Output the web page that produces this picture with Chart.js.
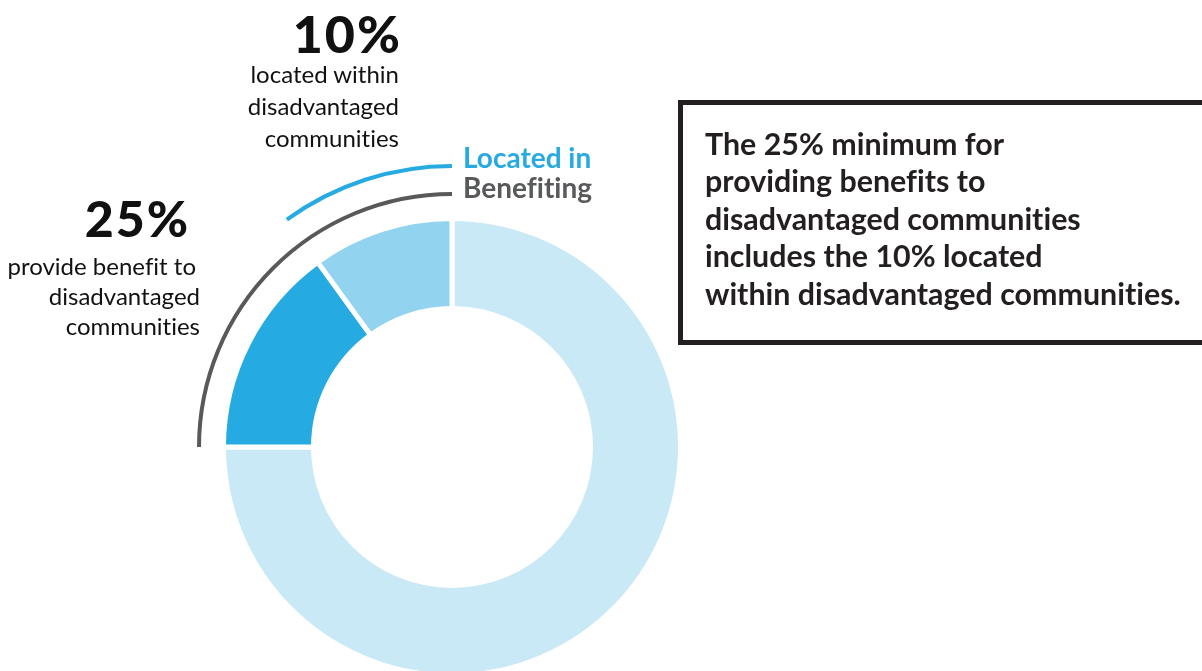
<!DOCTYPE html>
<html>
<head>
<meta charset="utf-8">
<script src="https://cdn.jsdelivr.net/npm/chart.js@4.4.1/dist/chart.umd.min.js"></script>
<style>
    html, body { margin: 0; padding: 0; background: #fff; }
    body { width: 1202px; height: 671px; position: relative; overflow: hidden; font-family: 'Lato', 'Open Sans', sans-serif; color: #111; font-variant-ligatures: none; }
    #ring { position: absolute; left: 152px; top: 146.5px; }
    .txt { position: absolute; white-space: nowrap; }
    .big { font-weight: 900; letter-spacing: 2px; }
    .right { text-align: right; }
    #note-box { position: absolute; left: 678px; top: 100px; width: 620px; height: 245px; box-sizing: border-box; border: 5px solid #231f20; }
</style>
</head>
<body>

<canvas id="ring" width="600" height="600"></canvas>

<div class="txt big right" style="left:202px; width:200px; top:7px; font-size:52px; line-height:52px;">10%</div>
<div class="txt right" style="left:199px; width:200px; top:57.7px; font-size:24px; line-height:32px;">
    located within<br>disadvantaged<br>communities
</div>

<div class="txt big right" style="left:0; width:190px; top:193px; font-size:50px; line-height:50px;">25%</div>
<div class="txt right" style="left:0; width:200px; top:250.7px; font-size:24px; line-height:30px;">
    <span style="padding-right:4px">provide benefit to</span><br>disadvantaged<br>communities
</div>

<div class="txt" style="left:463px; top:142.2px; font-size:28px; line-height:30px; font-weight:700;">
    <span id="lbl-located">Located in</span><br><span id="lbl-benefit">Benefiting</span>
</div>

<div id="note-box"></div>
<div class="txt" style="left:705px; top:124.6px; font-size:30.4px; line-height:37.5px; font-weight:700; color:#231f20;">
    The 25% minimum for<br>providing benefits to<br>disadvantaged communities<br>includes the 10% located<br>within disadvantaged communities.
</div>

<script>
// Share of funding, clockwise from 12 o'clock
const shareLabels = ['Other', 'Provide benefit (not located within)', 'Located within'];
const shareValues = [75, 15, 10];
const shareColors = ['#c9e9f6', '#25aae1', '#92d4ef'];

// Outer brackets: blank part, then the marked part
const benefitArc = [75, 25];
const locatedArc = [90, 10];

const GRAY = '#58595b';
const BLUE = '#27aae1';

document.getElementById('lbl-located').style.color = BLUE;
document.getElementById('lbl-benefit').style.color = GRAY;

// ring thicknesses in px (outermost first)
const ringWeights = { located: 4, gapOuter: 24, benefit: 4, gapInner: 22.5, main: 90 };
const outerR = 283;
const innerR = 138.5;

const ctx = document.getElementById('ring').getContext('2d');
new Chart(ctx, {
    type: 'doughnut',
    data: {
        labels: shareLabels,
        datasets: [
            { data: locatedArc, backgroundColor: ['rgba(0,0,0,0)', BLUE], borderWidth: 0, weight: ringWeights.located },
            { data: [100], backgroundColor: 'rgba(0,0,0,0)', borderWidth: 0, weight: ringWeights.gapOuter },
            { data: benefitArc, backgroundColor: ['rgba(0,0,0,0)', GRAY], borderWidth: 0, weight: ringWeights.benefit },
            { data: [100], backgroundColor: 'rgba(0,0,0,0)', borderWidth: 0, weight: ringWeights.gapInner },
            { data: shareValues, backgroundColor: shareColors, borderColor: '#fff', borderWidth: 5, weight: ringWeights.main }
        ]
    },
    options: {
        responsive: false,
        animation: false,
        radius: outerR,
        cutout: (innerR / outerR * 100) + '%',
        layout: { padding: 0 },
        events: [],
        plugins: { legend: { display: false }, tooltip: { enabled: false } }
    }
});
</script>
</body>
</html>
